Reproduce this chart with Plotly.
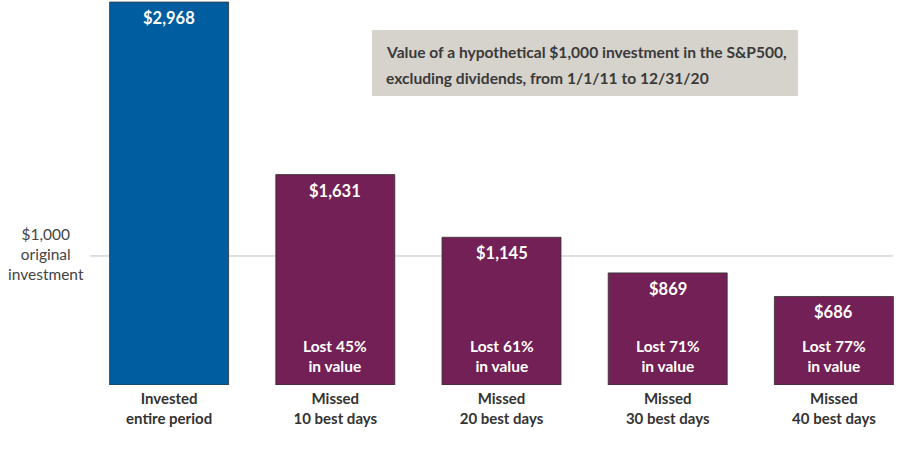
import plotly.graph_objects as go

categories = ["Invested<br>entire period", "Missed<br>10 best days", "Missed<br>20 best days",
              "Missed<br>30 best days", "Missed<br>40 best days"]
values = [2968, 1631, 1145, 869, 686]
value_labels = ["$2,968", "$1,631", "$1,145", "$869", "$686"]
loss_labels = ["", "Lost 45%<br>in value", "Lost 61%<br>in value", "Lost 71%<br>in value", "Lost 77%<br>in value"]
colors = ["#005DA0", "#722055", "#722055", "#722055", "#722055"]
baseline = 1000
baseline_label = "$1,000<br>original<br>investment"
title_lines = ["Value of a hypothetical $1,000 investment in the S&P500,",
               "excluding dividends, from 1/1/11 to 12/31/20"]

FONT = "Lato, 'Open Sans', sans-serif"

fig = go.Figure()
fig.add_trace(go.Bar(
    x=categories, y=values,
    marker=dict(color=colors, line=dict(color="rgba(50,50,50,0.8)", width=1)),
    hoverinfo="skip",
))

annotations = []
for c, v, vl, ll in zip(categories, values, value_labels, loss_labels):
    annotations.append(dict(x=c, y=v, xref="x", yref="y", text="<b>" + vl + "</b>",
                            showarrow=False, yanchor="top", yshift=-4,
                            font=dict(family=FONT, size=16.5, color="white")))
    if ll:
        annotations.append(dict(x=c, y=221, xref="x", yref="y", text="<b>" + ll + "</b>",
                                showarrow=False, yanchor="middle",
                                font=dict(family=FONT, size=15.5, color="white")))

annotations.append(dict(x=-0.0487, y=baseline, xref="paper", yref="y", text=baseline_label,
                        showarrow=False, xanchor="center", yanchor="middle", yshift=2,
                        font=dict(family=FONT, size=15.5, color="#444444")))

for i, (line, yp) in enumerate(zip(title_lines, [0.8649, 0.7974])):
    annotations.append(dict(x=0.3586, y=yp, xref="paper", yref="paper", text="<b>" + line + "</b>",
                            showarrow=False, xanchor="left", yanchor="middle",
                            font=dict(family=FONT, size=15.6, color="#3a3a3a")))

fig.update_layout(
    width=917, height=451,
    margin=dict(l=86, r=0, t=0, b=66),
    paper_bgcolor="white", plot_bgcolor="white",
    bargap=0.284,
    showlegend=False,
    annotations=annotations,
    shapes=[
        dict(type="line", xref="paper", yref="y", x0=0.005, x1=0.971, y0=baseline, y1=baseline,
             line=dict(color="#C0C0C0", width=1), layer="below"),
        dict(type="rect", xref="paper", yref="paper", x0=0.3442, x1=0.8568, y0=0.7506, y1=0.9221,
             fillcolor="#D6D2CC", line=dict(width=0), layer="below"),
    ],
    xaxis=dict(showgrid=False, showline=False, ticks="", ticklabelstandoff=3,
               tickfont=dict(family=FONT, size=15, color="#333333"),
               tickvals=categories, ticktext=["<b>" + c + "</b>" for c in categories]),
    yaxis=dict(range=[0, 2984], showgrid=False, showticklabels=False, zeroline=False, showline=False),
)

fig.write_html("out.html", config={"displayModeBar": False},
               post_script="document.body.style.margin='0';")
